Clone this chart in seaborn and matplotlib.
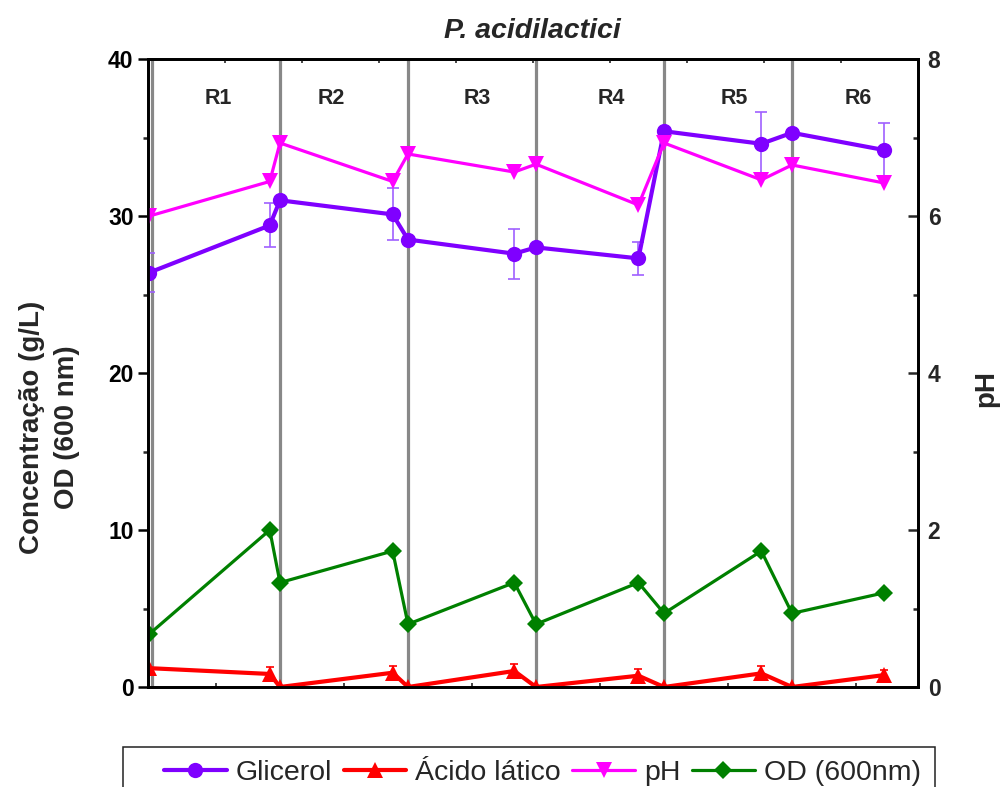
import numpy as np
import pandas as pd
import matplotlib
matplotlib.use("Agg")
import matplotlib.pyplot as plt
from matplotlib.patches import Rectangle
from matplotlib.ticker import MultipleLocator
import seaborn as sns

# Sampling times in cycle units (each reactor cycle spans one unit)
tempo = [-0.02, 0.92, 1.0, 1.88, 2.0, 2.83, 3.0, 3.80, 4.0, 4.76, 5.0, 5.72]
glicerol = [26.4, 29.4, 31.0, 30.1, 28.5, 27.6, 28.0, 27.3, 35.4, 34.6, 35.3, 34.2]
glicerol_dp = [1.25, 1.4, 0, 1.66, 0, 1.6, 0, 1.06, 0, 2.0, 0, 1.7]
acido_latico = [1.2, 0.83, 0.0, 0.91, 0.0, 1.02, 0.0, 0.72, 0.0, 0.87, 0.0, 0.76]
acido_dp = [0, 0.45, 0, 0.45, 0, 0.45, 0, 0.45, 0, 0.45, 0, 0.35]
ph = [6.0, 6.44, 6.93, 6.44, 6.79, 6.56, 6.66, 6.14, 6.93, 6.46, 6.65, 6.42]
od = [3.38, 10.0, 6.65, 8.66, 4.0, 6.65, 4.0, 6.65, 4.69, 8.66, 4.69, 6.0]

reatores = ["R1", "R2", "R3", "R4", "R5", "R6"]
inicio_ciclo = [0, 1, 2, 3, 4, 5]
legenda = ["Glicerol", "Ácido lático", "pH", "OD (600nm)"]

df = pd.DataFrame({"tempo": tempo, "glicerol": glicerol, "acido": acido_latico,
                   "ph": ph, "od": od})

sns.set_style("ticks")
plt.rcParams["font.family"] = ["Liberation Sans", "DejaVu Sans"]

fig = plt.figure(figsize=(10.01, 7.87), dpi=100)
ax = fig.add_axes([147.5 / 1001, 1 - 687 / 787, (918 - 147.5) / 1001, (687 - 59) / 787])
ax2 = ax.twinx()
ax_top = ax.twiny()

# cycle boundaries
for xb in inicio_ciclo:
    ax.axvline(xb, color="#888888", lw=2.3, zorder=1)

c_gli, c_ac, c_ph, c_od = "#7F00FF", "#FF0000", "#FF00FF", "#008000"

sns.lineplot(data=df, x="tempo", y="glicerol", sort=False, estimator=None, ax=ax,
             color=c_gli, lw=3.0, marker="o", markersize=11, markeredgewidth=0,
             zorder=4)
h_gli = ax.lines[-1]
m = np.array(glicerol_dp) > 0
ax.errorbar(np.array(tempo)[m], np.array(glicerol)[m], yerr=np.array(glicerol_dp)[m],
            fmt="none", ecolor="#A060FF", elinewidth=1.2, capsize=4, capthick=1.2,
            zorder=3)

sns.lineplot(data=df, x="tempo", y="acido", sort=False, estimator=None, ax=ax,
             color=c_ac, lw=3.0, marker="^", markersize=12, markeredgewidth=0,
             zorder=4)
h_ac = ax.lines[-1]
m = np.array(acido_dp) > 0
ax.errorbar(np.array(tempo)[m], np.array(acido_latico)[m], yerr=np.array(acido_dp)[m],
            fmt="none", ecolor=c_ac, elinewidth=1.2, capsize=3, capthick=1.2,
            zorder=3)

sns.lineplot(data=df, x="tempo", y="od", sort=False, estimator=None, ax=ax,
             color=c_od, lw=2.3, marker="D", markersize=9.5, markeredgewidth=0,
             zorder=4)
h_od = ax.lines[-1]

sns.lineplot(data=df, x="tempo", y="ph", sort=False, estimator=None, ax=ax2,
             color=c_ph, lw=2.3, marker="v", markersize=12, markeredgewidth=0,
             zorder=4)
h_ph = ax2.lines[-1]

for a in (ax, ax2):
    lg = a.get_legend()
    if lg is not None:
        lg.remove()

# axes ranges
ax.set_xlim(-0.035, 5.984)
ax.set_ylim(0, 40)
ax2.set_ylim(0, 8)
ax_top.set_xlim(0, 10)

ax.set_xlabel("")
ax2.set_xlabel("")
ax.set_xticks([0.5, 1.5, 2.5, 3.5, 4.5, 5.5])
ax.tick_params(axis="x", direction="in", length=3, width=1.2, labelbottom=False)
ax_top.set_xticks(range(1, 10))
ax_top.tick_params(axis="x", direction="in", length=3, width=1.2, labeltop=False)

ax.yaxis.set_major_locator(MultipleLocator(10))
ax.yaxis.set_minor_locator(MultipleLocator(5))
ax.tick_params(axis="y", which="major", direction="out", length=7, width=1.8,
               labelsize=16.5, pad=3, colors="black")
ax.tick_params(axis="y", which="minor", direction="out", length=3.6, width=1.8)
for t in ax.get_yticklabels():
    t.set_fontweight("bold")

ax2.yaxis.set_major_locator(MultipleLocator(2))
ax2.yaxis.set_minor_locator(MultipleLocator(1))
ax2.tick_params(axis="y", which="major", direction="in", length=7, width=1.8,
                labelsize=16.5, pad=7)
ax2.tick_params(axis="y", which="minor", direction="in", length=3.6, width=1.8)
for t in ax2.get_yticklabels():
    t.set_fontweight("bold")

for a in (ax, ax2, ax_top):
    for s in a.spines.values():
        s.set_linewidth(1.8)
        s.set_color("black")

ax.set_ylabel("Concentração (g/L)\nOD (600 nm)", fontsize=20, fontweight="bold",
              linespacing=1.45)
ax.yaxis.set_label_coords(-0.087, 0.414)
ax2.set_ylabel("pH", fontsize=20, fontweight="bold")
ax2.yaxis.set_label_coords(1.072, 0.476)

ax.set_title("P. acidilactici", fontsize=20.5, fontweight="bold",
             fontstyle="italic", pad=15)

# reactor labels
pos_rotulo = [0.516, 1.40, 2.54, 3.59, 4.55, 5.52]
for xr, r in zip(pos_rotulo, reatores):
    ax.text(xr, 37.5, r, ha="center", va="center", fontsize=15.5, fontweight="bold")

# legend below the plot
fig.add_artist(Rectangle((123 / 1001, -0.05), (935 - 123) / 1001, (1 - 747 / 787) + 0.05,
                         transform=fig.transFigure, fill=False, ec="#222222", lw=1.1))
fig.legend([h_gli, h_ac, h_ph, h_od], legenda, loc="center left",
           bbox_to_anchor=(164 / 1001, 1 - 773 / 787), ncol=4, frameon=False,
           fontsize=20.5, handlelength=2.2, handletextpad=0.32, columnspacing=0.4,
           borderpad=0, borderaxespad=0)

fig.savefig("out.png", dpi=100)
